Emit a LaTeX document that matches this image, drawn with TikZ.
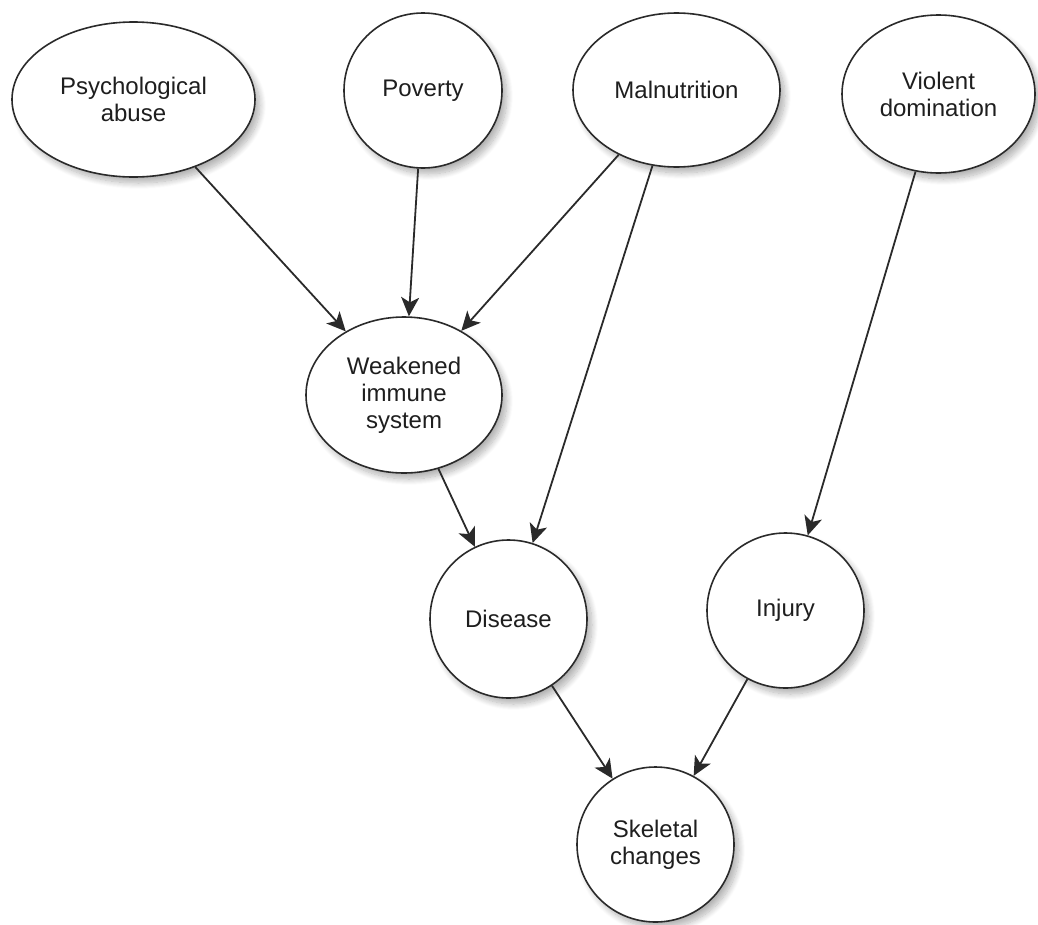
\documentclass[tikz,border=0pt]{standalone}
\usepackage{fontspec}
\setmainfont{Liberation Sans}
\usetikzlibrary{shapes.geometric,arrows.meta,shadows.blur}
\definecolor{txt}{HTML}{1E1E1E}
\definecolor{edge}{HTML}{2A2A2A}
\tikzset{
  bubble/.style={ellipse, draw=edge, line width=1.6pt, fill=white, inner sep=0pt,
    align=center, text=txt, font=\fontsize{24pt}{27pt}\selectfont,
    blur shadow={shadow xshift=5pt, shadow yshift=-6pt, shadow blur steps=12, shadow blur radius=6pt, shadow opacity=30}},
  link/.style={draw=edge, line width=1.8pt,
    -{Stealth[length=19pt, width=18pt, inset=5pt]}}
}
\begin{document}
\begin{tikzpicture}[x=1pt, y=-1pt]
\useasboundingbox (0,0) rectangle (1038,924);
\node[bubble, minimum width=243pt, minimum height=155pt] (psy) at (133.5,99.5) {Psychological\\abuse};
\node[bubble, minimum width=158pt, minimum height=155pt] (pov) at (423,90.5) {Poverty};
\node[bubble, minimum width=207pt, minimum height=154pt] (mal) at (676.5,90) {Malnutrition};
\node[bubble, minimum width=193pt, minimum height=158pt] (vio) at (938.5,94) {Violent\\domination};
\node[bubble, minimum width=196pt, minimum height=156pt] (wis) at (404,395) {Weakened\\immune\\system};
\node[bubble, minimum width=157pt, minimum height=158pt] (dis) at (508.5,619) {Disease};
\node[bubble, minimum width=157pt, minimum height=155pt] (inj) at (785.5,610.5) {Injury};
\node[bubble, minimum width=157pt, minimum height=155pt] (ske) at (655.5,844.5) {Skeletal\\changes};
\draw[link] (psy) -- (wis);
\draw[link] (pov) -- (wis);
\draw[link] (mal) -- (wis);
\draw[link] (mal) -- (dis);
\draw[link] (wis) -- (dis);
\draw[link] (vio) -- (inj);
\draw[link] (dis) -- (ske);
\draw[link] (inj) -- (ske);
\end{tikzpicture}
\end{document}
